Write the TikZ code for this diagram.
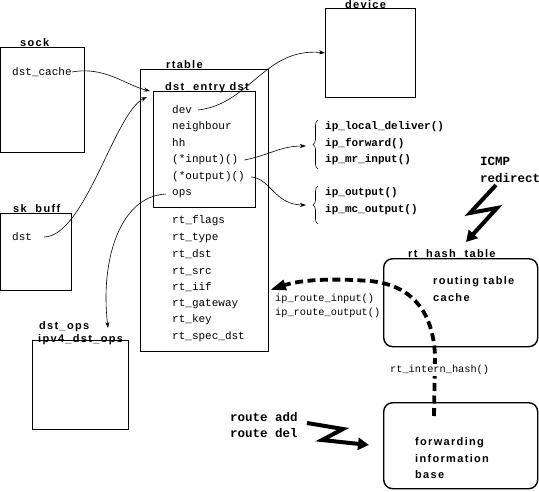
\documentclass[tikz,border=0pt]{standalone}
\usepackage{fontspec}
\setmainfont{Liberation Serif}
\setsansfont{Liberation Sans}[LetterSpace=12]
\newfontfamily\monofam{Liberation Mono}
\usetikzlibrary{arrows.meta,decorations.pathreplacing}
\begin{document}
\begin{tikzpicture}[x=1pt,y=-1pt,
  box/.style={draw,line width=0.8pt,inner sep=0pt,anchor=north west},
  rbox/.style={draw,line width=1.4pt,rounded corners=9pt,inner sep=0pt,anchor=north west},
  title/.style={font=\sffamily\bfseries\fontsize{11}{11}\selectfont,anchor=base west,inner sep=0pt},
  inbox/.style={font=\sffamily\bfseries\fontsize{11}{11}\selectfont,anchor=west,inner sep=0pt},
  field/.style={font=\monofam\fontsize{11}{11}\selectfont,anchor=west,inner sep=0pt},
  small/.style={font=\monofam\fontsize{10.3}{10.3}\selectfont,anchor=west,inner sep=0pt},
  fn/.style={font=\monofam\bfseries\fontsize{11}{11}\selectfont,anchor=west,inner sep=0pt},
  big/.style={font=\monofam\bfseries\fontsize{12.5}{12.5}\selectfont,anchor=west,inner sep=0pt},
  conn/.style={line width=0.6pt,-{Stealth[length=6pt,width=4pt]}},
  bolt/.style={line width=4pt,-{Triangle[length=11pt,width=12pt]}},
  brc/.style={line width=0.6pt,decorate,decoration={brace,amplitude=5pt}}
]
\useasboundingbox (0,0) rectangle (539,491);

% boxes
\node[box,minimum width=83pt,minimum height=105pt] (sock) at (0.5,47) {};
\node[box,minimum width=70pt,minimum height=77pt] (skbuff) at (0.5,213) {};
\node[box,minimum width=128pt,minimum height=282pt] (rtable) at (140,69) {};
\node[box,minimum width=102pt,minimum height=116pt] (dstentry) at (153,91) {};
\node[box,minimum width=90pt,minimum height=89pt] (device) at (325,8) {};
\node[box,minimum width=96pt,minimum height=89pt] (dstops) at (32,340) {};
\node[rbox,minimum width=154pt,minimum height=88pt] (hash) at (383,258) {};
\node[rbox,minimum width=154pt,minimum height=86pt] (fib) at (383,402) {};

% titles
\node[title] (tsock) at (20,46.5) {sock};
\node[title] (tskbuff) at (13,212.5) {sk\_buff};
\node[title] (trtable) at (166,68.5) {rtable};
\node[title] (tdstentry) at (165,90.5) {dst\_entry dst};
\node[title] (tdevice) at (345,8) {device};
\node[title] (tdstops) at (39,329) {dst\_ops};
\node[title] (tipv4) at (38,342) {ipv4\_dst\_ops};
\node[title] (thash) at (408,257.5) {rt\_hash\_table};

% fields
\node[field] (dstcache) at (12,72) {dst\_cache};
\node[field] (dst) at (12,237) {dst};
\node[field] (dev) at (172,110) {dev};
\node[field] (neigh) at (172,127) {neighbour};
\node[field] (hh) at (172,143) {hh};
\node[field] (input) at (172,160) {(*input)()};
\node[field] (output) at (172,177) {(*output)()};
\node[field] (ops) at (172,194) {ops};
\node[field] (rtflags) at (172,221) {rt\_flags};
\node[field] (rttype) at (172,238) {rt\_type};
\node[field] (rtdst) at (172,254) {rt\_dst};
\node[field] (rtsrc) at (172,271) {rt\_src};
\node[field] (rtiif) at (172,287) {rt\_iif};
\node[field] (rtgw) at (172,304) {rt\_gateway};
\node[field] (rtkey) at (172,320) {rt\_key};
\node[field] (rtspec) at (172,337) {rt\_spec\_dst};

% functions
\node[fn] (ipld) at (325,127) {ip\_local\_deliver()};
\node[fn] (ipfw) at (325,144) {ip\_forward()};
\node[fn] (ipmr) at (325,160) {ip\_mr\_input()};
\node[fn] (ipout) at (325,193) {ip\_output()};
\node[fn] (ipmc) at (325,210) {ip\_mc\_output()};
\node[small] (rin) at (275,299) {ip\_route\_input()};
\node[small] (rout) at (275,313) {ip\_route\_output()};

\node[big] (icmp) at (480,161) {ICMP};
\node[big] (redir) at (480,178) {redirect};
\node[big] (radd) at (230,417) {route add};
\node[big] (rdel) at (230,433) {route del};

\node[inbox] (rt1) at (433,282) {routing table};
\node[inbox] (rt2) at (433,298) {cache};
\node[inbox] (fw1) at (415,443) {forwarding};
\node[inbox] (fw2) at (415,459) {information};
\node[inbox] (fw3) at (415,475) {base};

% braces
\draw[brc] (318,169) -- (318,120);
\draw[brc] (318,224) -- (318,186);
\coordinate (b1) at (306,146);
\coordinate (b2) at (306,205);

% connectors
\coordinate (eentry) at (150,91);
\coordinate (eentry2) at (147,97);
\coordinate (eops) at (108,328);
\draw[conn] (dstcache.east) .. controls (105,66) and (125,85) .. (eentry);
\draw[conn] ([xshift=12pt]dst.east) .. controls (85,236) and (115,112) .. (eentry2);
\draw[conn] ([xshift=6pt]dev.east) .. controls (250,104) and (265,47) .. (device.west);
\draw[conn] ([xshift=6pt]input.east) .. controls (270,155) and (280,146) .. (b1);
\draw[conn] ([xshift=6pt]output.east) .. controls (270,178) and (275,205) .. (b2);
\draw[conn] ([xshift=-6pt]ops.west) .. controls (120,196) and (100,260) .. (eops);

% thick dashed arrow
\coordinate (dstart) at (434,416);
\coordinate (dend) at (270,290);
\draw[line width=3.8pt,dash pattern=on 8pt off 4.5pt,-{Triangle[length=16pt,width=10pt]}]
  (dstart) -- (435,355) .. controls (433,312) and (412,285) .. (370,281)
  .. controls (330,278) and (300,280) .. (dend);
\node[small,fill=white,inner sep=1pt] (rih) at (389,370) {rt\_intern\_hash()};

% bolts
\coordinate (i1) at (496,185);
\coordinate (i2) at (470,213);
\coordinate (i3) at (497,208);
\coordinate (i4) at (466,242);
\draw[bolt] (i1) -- (i2) -- (i3) -- (i4);
\coordinate (r1) at (307,423);
\coordinate (r2) at (343,429);
\coordinate (r3) at (322,440);
\coordinate (r4) at (369,445);
\draw[bolt] (r1) -- (r2) -- (r3) -- (r4);
\end{tikzpicture}
\end{document}
